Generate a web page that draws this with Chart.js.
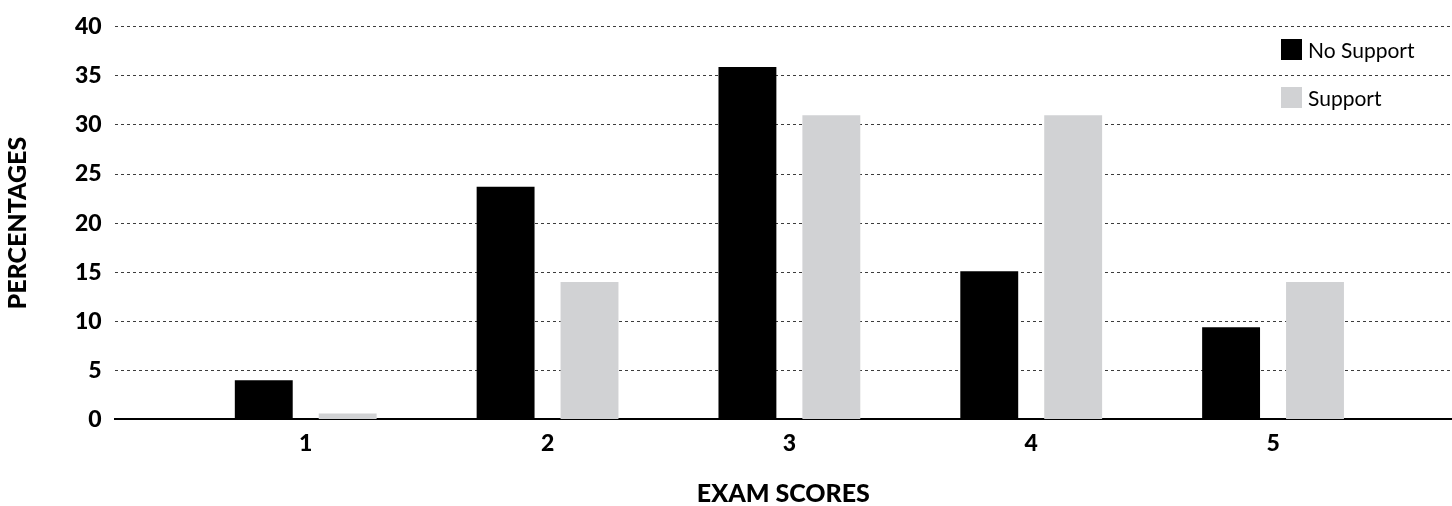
<!DOCTYPE html>
<html>
<head>
<meta charset="utf-8">
<script src="https://cdn.jsdelivr.net/npm/chart.js@4"></script>
<style>
  html, body { margin: 0; padding: 0; background: #fff; }
  #wrap { position: relative; width: 1452px; height: 506px; }
  #legend { position: absolute; left: 1281px; top: 38px; font-family: Lato, sans-serif; font-size: 21px; color: #000; }
  #legend div { display: flex; align-items: center; height: 22px; margin-bottom: 26px; }
  #legend span.box { display: inline-block; width: 21px; height: 21px; margin-right: 6px; }
</style>
</head>
<body>
<div id="wrap">
  <canvas id="chart" width="1452" height="506"></canvas>
  <div id="legend"></div>
</div>
<script>
var categories = ["1", "2", "3", "4", "5"];
var seriesNames = ["No Support", "Support"];
var noSupport = [4.0, 23.7, 35.9, 15.1, 9.4];
var support = [0.6, 14.0, 31.0, 31.0, 14.0];
var colors = ["#000000", "#d1d2d4"];
var yTicks = [0, 5, 10, 15, 20, 25, 30, 35, 40];

function points(values) {
    return values.map(function(v, i) { return {x: i + 1, y: v}; });
}

var font = "Lato, 'Open Sans', sans-serif";
var data = {
    datasets: [
        {label: seriesNames[0], data: points(noSupport), backgroundColor: colors[0]},
        {label: seriesNames[1], data: points(support), backgroundColor: colors[1]}
    ]
};

var chart = new Chart(document.getElementById("chart"), {
    type: 'bar',
    data: data,
    options: {
        responsive: false,
        animation: false,
        barPercentage: 0.69,
        categoryPercentage: 0.694,
        layout: {padding: {left: 3, right: 0, top: 9, bottom: -3}},
        plugins: {legend: {display: false}, tooltip: {enabled: false}},
        scales: {
            x: {
                type: 'linear',
                min: 0.21,
                max: 5.74,
                offset: false,
                grid: {display: false},
                border: {display: true, color: '#000', width: 2},
                ticks: {
                    stepSize: 1,
                    includeBounds: false,
                    padding: 2,
                    color: '#000',
                    font: {family: font, size: 23, weight: 900},
                    callback: function(v) { return categories[v - 1]; }
                },
                title: {
                    display: true,
                    text: 'EXAM SCORES',
                    color: '#000',
                    font: {family: font, size: 25, weight: 900},
                    padding: {top: 20, bottom: 0}
                }
            },
            y: {
                min: 0,
                max: 40,
                afterBuildTicks: function(axis) {
                    axis.ticks = yTicks.map(function(v) { return {value: v}; });
                },
                border: {display: false, dash: [3, 3]},
                grid: {
                    drawTicks: false,
                    color: function(c) { return c.tick && c.tick.value === 0 ? 'rgba(0,0,0,0)' : '#3c3c3c'; },
                    lineWidth: 1
                },
                ticks: {
                    padding: 13,
                    color: '#000',
                    font: {family: font, size: 23, weight: 900}
                },
                title: {
                    display: true,
                    text: 'PERCENTAGES',
                    color: '#000',
                    font: {family: font, size: 25, weight: 900},
                    padding: {top: 0, bottom: 29}
                }
            }
        }
    }
});

var legend = document.getElementById("legend");
seriesNames.forEach(function(name, i) {
    var row = document.createElement("div");
    var box = document.createElement("span");
    box.className = "box";
    box.style.background = colors[i];
    row.appendChild(box);
    row.appendChild(document.createTextNode(name));
    legend.appendChild(row);
});
</script>
</body>
</html>
